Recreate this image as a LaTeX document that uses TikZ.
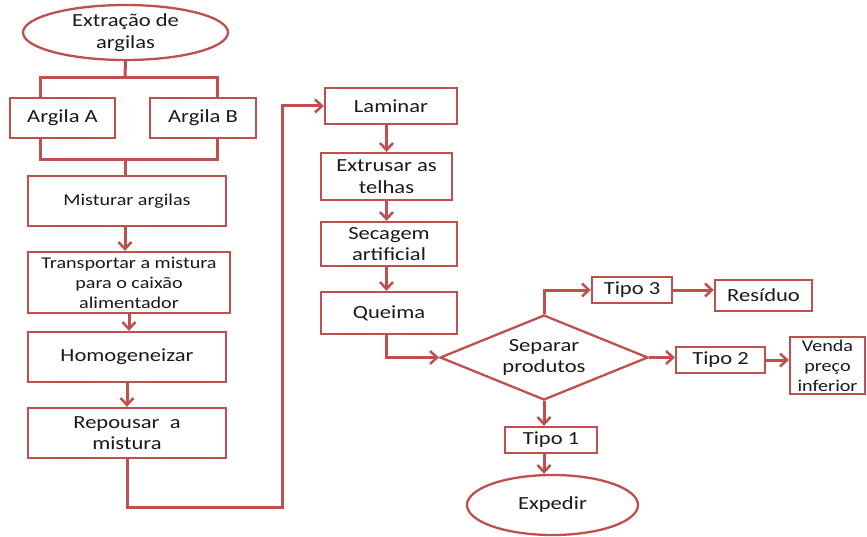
\documentclass[tikz,border=0pt]{standalone}
\usepackage{fontspec}
\setmainfont{Carlito}[FakeStretch=1.22]
\usetikzlibrary{shapes.geometric,arrows.meta}
\definecolor{rd}{HTML}{C0504D}
\definecolor{tx}{HTML}{1A1A1A}
\tikzset{
  bx/.style={draw=rd,line width=2.3pt,fill=white,rectangle,inner sep=0pt,align=center,text=tx,font=\fontsize{18.5}{21.5}\selectfont},
  sm/.style={font=\fontsize{16.5}{20}\selectfont},
  ell/.style={bx,ellipse},
  dia/.style={bx,diamond,aspect=2.45},
  ln/.style={draw=rd,line width=3pt},
  arr/.style={ln,-{Straight Barb[length=7pt,width=13pt,line width=2.5pt]}}
}
\begin{document}
\begin{tikzpicture}[x=1pt,y=-1pt]
\useasboundingbox (0,0) rectangle (867,537);
\node[ell,minimum width=205pt,minimum height=55pt] (extr) at (125.5,32.5) {Extração de\\argilas};
\node[bx,minimum width=105pt,minimum height=40pt] (argA) at (62.5,118) {Argila A};
\node[bx,minimum width=106pt,minimum height=40pt] (argB) at (203,118) {Argila B};
\node[bx,sm,minimum width=198pt,minimum height=50pt] (mist) at (127,201) {Misturar argilas};
\node[bx,sm,minimum width=202pt,minimum height=61pt] (transp) at (129,282.5) {Transportar a mistura\\para o caixão\\alimentador};
\node[bx,minimum width=198pt,minimum height=50pt] (homog) at (127,357) {Homogeneizar};
\node[bx,minimum width=198pt,minimum height=50pt] (repous) at (127,433) {Repousar\ \ a\\mistura};
\node[bx,minimum width=132pt,minimum height=36pt] (lam) at (391,106) {Laminar};
\node[bx,minimum width=131pt,minimum height=47pt] (extrus) at (386.5,176.5) {Extrusar as\\telhas};
\node[bx,minimum width=136pt,minimum height=44pt] (secag) at (389,244) {Secagem\\artificial};
\node[bx,minimum width=136pt,minimum height=42pt] (queima) at (389,313) {Queima};
\node[dia,minimum width=208pt,minimum height=85pt] (sep) at (544,357.5) {Separar\\produtos};
\node[bx,minimum width=80pt,minimum height=26pt] (tipo3) at (632,290) {Tipo 3};
\node[bx,minimum width=97pt,minimum height=31pt] (resid) at (763.5,295.5) {Resíduo};
\node[bx,minimum width=89pt,minimum height=26pt] (tipo2) at (720.5,360) {Tipo 2};
\node[bx,sm,minimum width=75pt,minimum height=57pt] (venda) at (827.5,365.5) {Venda\\preço\\inferior};
\node[bx,minimum width=92pt,minimum height=26pt] (tipo1) at (551,440) {Tipo 1};
\node[ell,minimum width=171pt,minimum height=60pt] (exped) at (552.5,505) {Expedir};
\coordinate (jt) at (125,78);
\coordinate (jb) at (125,160);
\coordinate (c1) at (282,507);
\draw[ln] (extr.south) -- (jt);
\draw[ln] ([xshift=-22.5pt]argA.north) |- (jt) -| ([xshift=14pt]argB.north);
\draw[ln] ([xshift=-22.5pt]argA.south) |- (jb) -| ([xshift=14pt]argB.south);
\draw[ln] (jb) -- (jb |- mist.north);
\draw[arr] (mist.south -| jb) -- (jb |- transp.north);
\draw[arr] (transp.south) -- (transp.south |- homog.north);
\draw[arr] (homog.south) -- (homog.south |- repous.north);
\draw[arr] (repous.south) |- (c1) |- (lam.west);
\draw[arr] (extrus.north |- lam.south) -- (extrus.north);
\draw[arr] (extrus.south) -- (extrus.south |- secag.north);
\draw[arr] (extrus.south |- secag.south) -- (extrus.south |- queima.north);
\draw[arr] (extrus.south |- queima.south) |- (sep.west);
\draw[arr] (sep.north) |- (tipo3.west);
\draw[arr] (tipo3.east) -- (tipo3.east -| resid.west);
\draw[arr] (sep.east) -- (sep.east -| tipo2.west);
\draw[arr] (tipo2.east) -- (tipo2.east -| venda.west);
\draw[arr] (sep.south) -- (sep.south |- tipo1.north);
\draw[arr] (sep.south |- tipo1.south) -- (sep.south |- exped.north);
\end{tikzpicture}
\end{document}
